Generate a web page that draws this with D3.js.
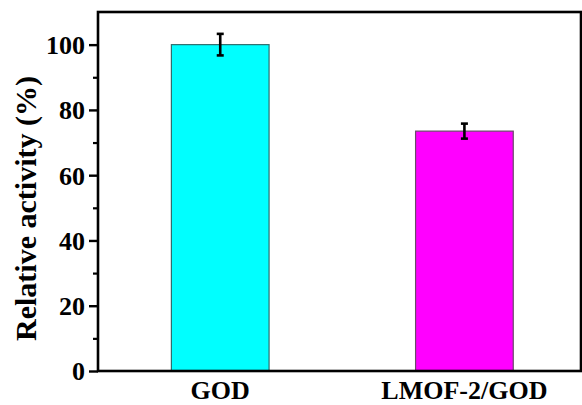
<!DOCTYPE html>
<html>
<head>
<meta charset="utf-8">
<script src="https://cdn.jsdelivr.net/npm/d3@7"></script>
<style>
  html, body { margin: 0; padding: 0; background: #fff; }
  svg { display: block; }
  text { font-family: "Liberation Serif", "Times New Roman", serif; font-weight: bold; fill: #000; }
</style>
</head>
<body>
<svg id="chart" width="582" height="405"></svg>
<script>
// Relative activity of free enzyme vs. immobilized enzyme
const categories = ["GOD", "LMOF-2/GOD"];
const activity = [100, 73.5];
const activityErr = [3.3, 2.3];
const barColors = ["#00FFFF", "#FF00FF"];
const barStrokes = ["#2F6E6E", "#6A4A6A"];
const yTicks = [0, 20, 40, 60, 80, 100];
const yMinorTicks = [10, 30, 50, 70, 90];

const W = 582, H = 405;
const margin = { left: 98, right: 1, top: 12, bottom: 34 };
const x0 = margin.left, x1 = W - margin.right;
const y0 = H - margin.bottom, y1 = margin.top;

const svg = d3.select("#chart");

const x = d3.scaleBand()
  .domain(categories)
  .range([x0, x1])
  .paddingInner(0.6)
  .paddingOuter(0.289)
  .align(0.52);

const y = d3.scaleLinear().domain([0, 110]).range([y0, y1]);

// Bars
svg.append("g")
  .selectAll("rect")
  .data(categories)
  .join("rect")
  .attr("x", d => x(d))
  .attr("y", (d, i) => y(activity[i]))
  .attr("width", x.bandwidth())
  .attr("height", (d, i) => y(0) - y(activity[i]))
  .attr("fill", (d, i) => barColors[i])
  .attr("stroke", (d, i) => barStrokes[i])
  .attr("stroke-width", 1.2);

// Error bars
const eb = svg.append("g").attr("stroke", "#000").attr("stroke-width", 2.6);
categories.forEach((c, i) => {
  const cx = x(c) + x.bandwidth() / 2;
  const hi = y(activity[i] + activityErr[i]);
  const lo = y(activity[i] - activityErr[i]);
  eb.append("line").attr("x1", cx).attr("x2", cx).attr("y1", hi).attr("y2", lo);
  eb.append("line").attr("x1", cx - 3.5).attr("x2", cx + 3.5).attr("y1", hi).attr("y2", hi);
  eb.append("line").attr("x1", cx - 3.5).attr("x2", cx + 3.5).attr("y1", lo).attr("y2", lo);
});

// Left axis: major ticks with labels
const yAxis = svg.append("g")
  .attr("transform", `translate(${x0},0)`)
  .call(d3.axisLeft(y).tickValues(yTicks).tickSize(9).tickPadding(4).tickFormat(d3.format("d")));
yAxis.select(".domain").remove();
yAxis.selectAll(".tick line").attr("stroke", "#000").attr("stroke-width", 2.4);
yAxis.selectAll(".tick text")
  .style("font-size", "26px")
  .style("font-family", "'Liberation Serif', serif")
  .style("font-weight", "bold")
  .attr("fill", "#000")
  .attr("dy", "0.34em");

// Left axis: minor ticks
const yMinor = svg.append("g")
  .attr("transform", `translate(${x0},0)`)
  .call(d3.axisLeft(y).tickValues(yMinorTicks).tickSize(5).tickFormat(""));
yMinor.select(".domain").remove();
yMinor.selectAll(".tick line").attr("stroke", "#000").attr("stroke-width", 2.2);

// Bottom axis labels
const xAxis = svg.append("g")
  .attr("transform", `translate(0,${y0})`)
  .call(d3.axisBottom(x).tickSize(0).tickPadding(10));
xAxis.select(".domain").remove();
xAxis.selectAll(".tick text")
  .style("font-size", "26px")
  .style("font-family", "'Liberation Serif', serif")
  .style("font-weight", "bold")
  .attr("fill", "#000")
  .attr("dy", "0.71em");

// Frame
svg.append("rect")
  .attr("x", x0).attr("y", y1)
  .attr("width", x1 - x0).attr("height", y0 - y1)
  .attr("fill", "none").attr("stroke", "#000").attr("stroke-width", 2.6);

// Axis title
svg.append("text")
  .attr("transform", `translate(36,${(y0 + y1) / 2 + 17}) rotate(-90)`)
  .attr("text-anchor", "middle")
  .style("font-size", "30px")
  .text("Relative activity (%)");
</script>
</body>
</html>
